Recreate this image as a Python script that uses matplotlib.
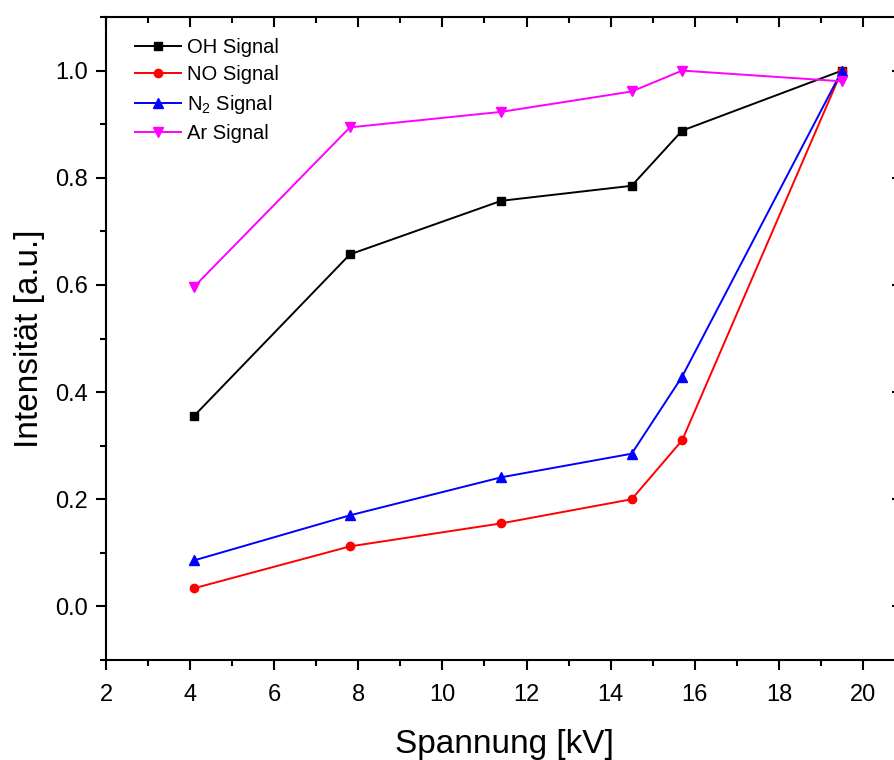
import matplotlib
matplotlib.use("Agg")
import matplotlib.pyplot as plt
from matplotlib.ticker import MultipleLocator, FormatStrFormatter

plt.rcParams['font.family'] = ['Liberation Sans', 'DejaVu Sans']
plt.rcParams['mathtext.fontset'] = 'custom'
plt.rcParams['mathtext.rm'] = 'Liberation Sans'

voltage = [4.1, 7.8, 11.4, 14.5, 15.7, 19.5]
oh_signal = [0.356, 0.657, 0.757, 0.785, 0.888, 1.0]
no_signal = [0.034, 0.112, 0.155, 0.200, 0.310, 1.0]
n2_signal = [0.086, 0.170, 0.241, 0.285, 0.429, 1.0]
ar_signal = [0.597, 0.894, 0.923, 0.961, 1.0, 0.980]

fig = plt.figure(figsize=(8.94, 7.6), dpi=100)
x0, x1 = 106, 902
xmax = 2 + (x1 - x0) / ((863 - 106) / 18)
ax = fig.add_axes([x0/894, 100/760, (x1 - x0)/894, 643/760])

lw = 1.4
ms = 6
ax.plot(voltage, oh_signal, color='black', marker='s', lw=lw, ms=ms-0.5, label='OH Signal')
ax.plot(voltage, no_signal, color='red', marker='o', lw=lw, ms=ms, label='NO Signal')
ax.plot(voltage, n2_signal, color='blue', marker='^', lw=lw, ms=ms+0.5, label=r'N$_2$ Signal')
ax.plot(voltage, ar_signal, color='magenta', marker='v', lw=lw, ms=ms+0.5, label='Ar Signal')

ax.set_xlim(2, xmax)
ax.set_ylim(-0.1, 1.1)
ax.xaxis.set_major_locator(MultipleLocator(2))
ax.xaxis.set_minor_locator(MultipleLocator(1))
ax.yaxis.set_major_locator(MultipleLocator(0.2))
ax.yaxis.set_minor_locator(MultipleLocator(0.1))
ax.yaxis.set_major_formatter(FormatStrFormatter('%.1f'))

ax.tick_params(axis='both', which='major', direction='out', length=7, width=1.5, labelsize=17, pad=6)
ax.tick_params(axis='both', which='minor', direction='out', length=4, width=1.5)
ax.tick_params(axis='x', which='major', pad=10)
ax.tick_params(top=True, right=True, which='both')
for t in ax.xaxis.get_major_ticks() + ax.xaxis.get_minor_ticks():
    t.tick2line.set_marker(matplotlib.lines.TICKDOWN)
for t in ax.yaxis.get_major_ticks() + ax.yaxis.get_minor_ticks():
    t.tick2line.set_marker(matplotlib.lines.TICKLEFT)

for s in ax.spines.values():
    s.set_linewidth(1.5)

ax.set_xlabel('Spannung [kV]', fontsize=24, labelpad=17)
ax.set_ylabel('Intensität [a.u.]', fontsize=24, labelpad=7)

leg = ax.legend(loc='upper left', frameon=False, fontsize=14.5, handlelength=2.3,
                handletextpad=0.3, labelspacing=0.42, borderaxespad=0.0,
                borderpad=0.0, bbox_to_anchor=(29/796, 1 - 21/643))

fig.savefig('out.png', dpi=100)
